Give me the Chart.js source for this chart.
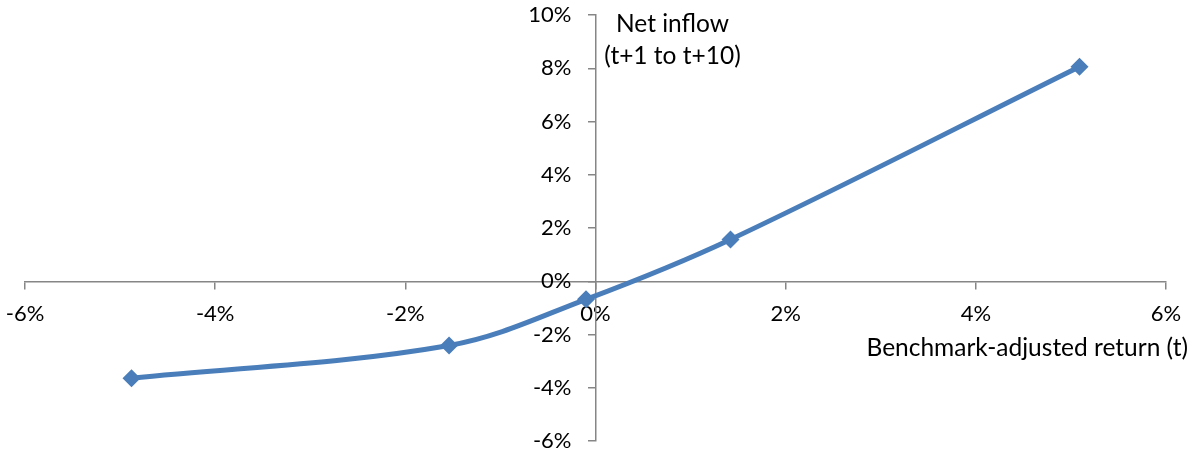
<!DOCTYPE html>
<html>
<head>
<meta charset="utf-8">
<script src="https://cdn.jsdelivr.net/npm/chart.js@4"></script>
<style>
  html, body { margin: 0; padding: 0; background: #ffffff; }
  #wrap { width: 1198px; height: 454px; }
</style>
</head>
<body>
<div id="wrap"><canvas id="c" width="1198" height="454"></canvas></div>
<script>
// Data (percent units)
const returnsX = [-4.88, -1.54, -0.10, 1.42, 5.09];
const inflowY  = [-3.64, -2.41, -0.68, 1.57, 8.06];
const xTicks = [-6, -4, -2, 0, 2, 4, 6];
const yTicks = [-6, -4, -2, 0, 2, 4, 6, 8, 10];
const xTitle = 'Benchmark-adjusted return (t)';
const yTitleLines = ['Net inflow', '(t+1 to t+10)'];

const FONT = 'Lato, "Open Sans", sans-serif';
const AXIS = '#868686';
const BLUE = '#4a7ebb';
const TICK_SIZE = 22;
const TITLE_SIZE = 24.5;

const points = returnsX.map((x, i) => ({ x: x, y: inflowY[i] }));
const pct = (v) => v + '%';

const textPlugin = {
  id: 'texts',
  afterDraw(chart) {
    const ctx = chart.ctx;
    const xs = chart.scales.x, ys = chart.scales.y;
    const axisX = xs.getPixelForValue(0);
    const axisY = ys.getPixelForValue(0);
    ctx.save();
    ctx.fillStyle = '#000000';
    ctx.textBaseline = 'middle';
    // y tick labels, left of the centred vertical axis
    ctx.font = TICK_SIZE + 'px ' + FONT;
    ctx.textAlign = 'right';
    yTicks.forEach(v => ctx.fillText(pct(v), axisX - 24, ys.getPixelForValue(v)));
    // titles
    ctx.font = TITLE_SIZE + 'px ' + FONT;
    ctx.textAlign = 'center';
    const cx = axisX + 77;
    ctx.fillText(yTitleLines[0], cx, ys.top + 9);
    ctx.fillText(yTitleLines[1], cx, ys.top + 41);
    ctx.textAlign = 'right';
    ctx.fillText(xTitle, xs.right + 22, axisY + 67);
    ctx.restore();
  }
};

new Chart(document.getElementById('c'), {
  type: 'scatter',
  data: {
    datasets: [{
      data: points,
      showLine: true,
      borderColor: BLUE,
      backgroundColor: BLUE,
      borderWidth: 5,
      tension: 0.35,
      pointStyle: 'rectRot',
      pointRadius: 9,
      pointHoverRadius: 9,
      pointBorderWidth: 0,
      pointBackgroundColor: BLUE
    }]
  },
  options: {
    responsive: false,
    animation: false,
    events: [],
    layout: { padding: { left: 25, right: 32, top: 15, bottom: 13 } },
    plugins: { legend: { display: false }, tooltip: { enabled: false } },
    scales: {
      x: {
        type: 'linear',
        position: { y: 0 },
        min: xTicks[0], max: xTicks[xTicks.length - 1],
        afterBuildTicks: (s) => { s.ticks = xTicks.map(v => ({ value: v })); },
        afterFit: (s) => { s.paddingLeft = 0; s.paddingRight = 0; },
        ticks: {
          callback: pct,
          color: '#000000',
          font: { family: FONT, size: TICK_SIZE },
          padding: 12,
          maxRotation: 0,
          autoSkip: false
        },
        grid: { drawOnChartArea: false, drawTicks: true, tickLength: 7, color: AXIS, lineWidth: 1.5 },
        border: { color: AXIS, width: 1.5 }
      },
      y: {
        type: 'linear',
        position: { x: 0 },
        min: yTicks[0], max: yTicks[yTicks.length - 1],
        afterBuildTicks: (s) => { s.ticks = yTicks.map(v => ({ value: v })); },
        ticks: { display: false },
        grid: { drawOnChartArea: false, drawTicks: true, tickLength: 7, color: AXIS, lineWidth: 1.5 },
        border: { color: AXIS, width: 1.5 }
      }
    }
  },
  plugins: [textPlugin]
});
</script>
</body>
</html>
